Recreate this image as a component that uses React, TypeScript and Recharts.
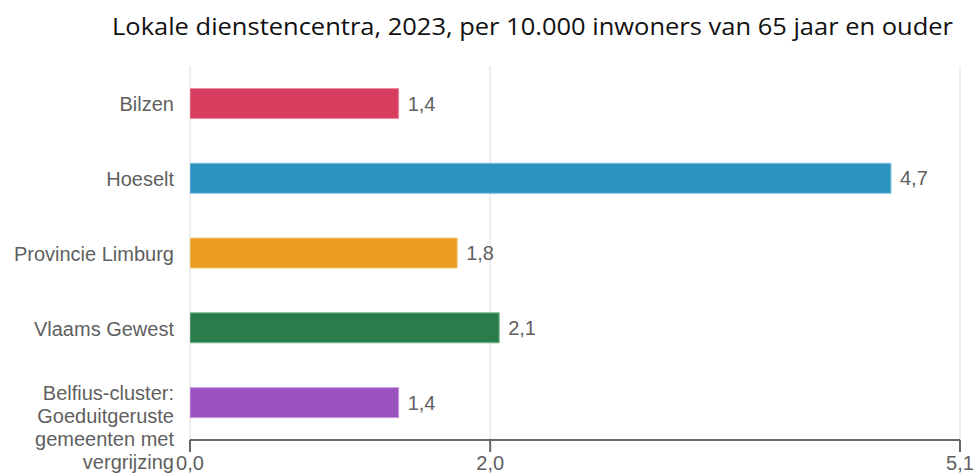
import React from 'react';
import { BarChart, Bar, XAxis, YAxis, CartesianGrid, Cell, LabelList } from 'recharts';

const categories = [
  'Bilzen',
  'Hoeselt',
  'Provincie Limburg',
  'Vlaams Gewest',
  'Belfius-cluster:\nGoeduitgeruste\ngemeenten met\nvergrijzing',
];
const values = [1.39, 4.67, 1.78, 2.06, 1.39];
const xTicks = [0, 2, 5.13];
const colors = ['#d73d5f', '#2b92c0', '#e99c20', '#2b7c4b', '#9b52bf'];
const strokes = ['#ec8aa0', '#7fc0e0', '#f5c878', '#7cb893', '#c99ae0'];

const data = categories.map((name, i) => ({ name, value: values[i] }));

const fmt = (v: number) => Number(v).toFixed(1).replace('.', ',');

const FONT = '"Liberation Sans", Arial, sans-serif';

// multi-line category labels, first line sits at the bar centre
const YTick = (props: any) => {
  const { x, y, payload } = props;
  const lines = String(payload.value).split('\n');
  const startY = lines.length > 1 ? y - 3 : y + 8;
  return (
    <text textAnchor="end" fill="#5f5f5f" fontSize={20} fontFamily={FONT}>
      {lines.map((l, i) => (
        <tspan key={i} x={x} y={startY + i * 23}>
          {l}
        </tspan>
      ))}
    </text>
  );
};

export default function App() {
  return (
    <div style={{ position: 'absolute', left: 0, top: 0, width: 976, height: 474, background: '#fff' }}>
      <svg width={976} height={60} style={{ position: 'absolute', left: 0, top: 0 }}>
        <text
          x={112}
          y={35}
          fontSize={24}
          fill="#111"
          fontFamily='"Open Sans", sans-serif'
          textLength={841}
          lengthAdjust="spacingAndGlyphs"
        >
          Lokale dienstencentra, 2023, per 10.000 inwoners van 65 jaar en ouder
        </text>
      </svg>
      <div style={{ position: 'absolute', left: 0, top: 0 }}>
        <BarChart
          width={976}
          height={474}
          data={data}
          layout="vertical"
          margin={{ top: 66, right: 16, bottom: 0, left: 0 }}
          barCategoryGap="30%"
        >
          <CartesianGrid horizontal={false} stroke="#e8e8e8" strokeWidth={1.5} />
          <XAxis
            type="number"
            domain={[0, 5.13]}
            ticks={xTicks}
            tickFormatter={fmt}
            height={34}
            tickSize={12}
            tickMargin={4}
            axisLine={{ stroke: '#666', strokeWidth: 2 }}
            tickLine={{ stroke: '#666', strokeWidth: 2 }}
            tick={{ fill: '#5f5f5f', fontSize: 20, fontFamily: FONT }}
            interval={0}
            allowDataOverflow
          />
          <YAxis
            type="category"
            dataKey="name"
            width={190}
            axisLine={false}
            tickLine={false}
            tickSize={0}
            tickMargin={16}
            tick={<YTick />}
            interval={0}
          />
          <Bar dataKey="value" isAnimationActive={false} strokeWidth={1}>
            {data.map((d, i) => (
              <Cell key={d.name} fill={colors[i]} stroke={strokes[i]} />
            ))}
            <LabelList
              dataKey="value"
              position="right"
              offset={9}
              formatter={(v: any) => fmt(v)}
              fill="#5f5f5f"
              fontSize={20}
              fontFamily={FONT}
            />
          </Bar>
        </BarChart>
      </div>
    </div>
  );
}
